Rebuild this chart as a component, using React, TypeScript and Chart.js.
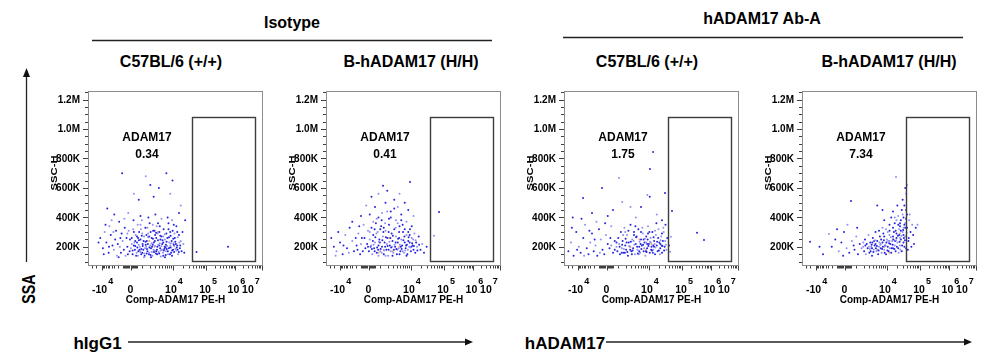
import React, { useEffect, useRef } from "react";
import { Chart, registerables } from "chart.js";

Chart.register(...registerables);

// ---------- data (x in display channel 0-1000 across the biexponential axis, y = SSC-H in K) ----------
const groupTitles = ["Isotype", "hADAM17 Ab-A"];
const panelTitles = ["C57BL/6 (+/+)", "B-hADAM17 (H/H)", "C57BL/6 (+/+)", "B-hADAM17 (H/H)"];
const gateName = "ADAM17";
const gatePercents = ["0.34", "0.41", "1.75", "7.34"];
const axisLabelsBottom = ["hIgG1", "hADAM17"];
const axisLabelLeft = "SSA";
const xTitle = "Comp-ADAM17 PE-H";
const yTitle = "SSC-H";

const yTickValues = [200000, 400000, 600000, 800000, 1000000, 1200000];
const yTickLabels = ["200K", "400K", "600K", "800K", "1.0M", "1.2M"];
const xTickValues = [80, 243, 486, 674, 840, 1000];
const xLabelValues = [66, 243, 474, 669, 831, 914];
const xTickBase = ["-10", "0", "10", "10", "10", "10"];
const xTickExp = ["4", "", "4", "5", "6", "7"];

const gateX = [597, 952];
const gateY = [105000, 1081000];

const isoWT: number[][] = [
  [195,700],[448,700],[330,680],[356,620],[483,650],[262,560],[290,520],[110,460],[530,480],[405,600],[375,540],[230,430],[150,420],[520,430],[470,560],
  [70,260],[85,190],[95,300],[105,230],[118,160],[122,340],[130,280],[140,210],[148,180],[155,250],[160,310],[165,140],[170,220],[178,370],[182,200],[188,160],[192,290],[198,240],[205,180],[210,330],[215,140],[220,260],[225,200],[232,310],[238,170],[100,350],[135,380],[90,150],[175,130],[208,390],[120,200],[60,230],[145,300],[185,260],[228,150],
  [245,190],[250,260],[255,150],[258,320],[262,210],[268,180],[272,280],[275,140],[280,230],[284,350],[288,170],[292,300],[296,200],[300,250],[304,150],[308,380],[312,220],[316,180],[320,270],[324,140],[328,330],[332,200],[336,240],[340,170],[344,290],[348,150],[352,360],[356,210],[360,190],[364,260],[368,140],[372,310],[376,230],[380,175],[384,280],[388,155],[392,340],[396,200],[400,245],[404,165],[408,300],[412,190],[416,135],[420,270],[424,220],[428,160],[432,320],[436,185],[440,250],[444,145],[448,290],[452,205],[456,170],[460,360],[464,230],[468,150],[472,275],[476,195],[480,140],[484,310],[488,225],[492,165],[496,260],[500,185],[505,340],[510,210],[515,150],[520,280],[525,190],[530,240],[535,170],[540,300],[545,220],[550,160],[555,380],
  [250,220],[262,300],[270,240],[278,160],[286,260],[294,180],[302,320],[310,160],[318,240],[326,190],[334,280],[342,220],[350,160],[358,300],[366,200],[374,180],[382,240],[390,170],[398,290],[406,210],[414,250],[422,180],[430,230],[438,200],[446,170],[454,260],[462,190],[470,210],[478,240],[486,180],[494,290],[502,220],[512,180],[522,230],[345,400],[385,420],[420,390],[300,410],[455,400],[480,380],[260,380],[395,150],[365,165],[335,155],[305,185],[415,175],[445,215],[475,160],[505,175],[270,205],[430,140],[370,350],[410,340],[490,350],[285,140],[360,130],[440,130],[320,130],
  [282,195],[291,245],[299,165],[307,275],[313,205],[321,155],[329,235],[337,185],[343,265],[351,195],[357,145],[363,225],[371,255],[377,165],[383,205],[389,295],[394,180],[401,215],[407,155],[413,275],[419,205],[426,245],[433,175],[439,285],[443,195],[449,235],[457,150],[463,265],[469,195],[474,225],[481,175],[487,255],[493,205],[499,235],[507,195],[513,265],[519,165],[527,210],[290,215],[330,215],[370,215],[410,225],[450,185],[490,215],[310,290],[350,270],[390,260],[430,270],[470,300],[510,300],[340,330],[400,360],[460,320],[300,350],[380,310],[280,270],[265,230],[255,175],[240,250],[225,290],
  [620,165],[800,200]
];
const isoKI: number[][] = [
  [480,640],[326,614],[300,560],[260,540],[350,580],[420,560],[390,520],[450,500],[230,480],[340,500],[280,470],[410,470],[470,450],[370,440],[320,430],[250,420],[430,420],[500,410],[300,400],[360,390],[400,380],[200,410],[150,370],[460,370],
  [30,260],[45,200],[60,170],[80,230],[95,150],[110,280],[120,190],[135,330],[150,240],[160,170],[175,210],[185,290],[195,150],[205,260],[215,350],[225,190],[235,220],[240,310],[70,300],[100,210],[130,160],[170,260],[190,340],[55,140],[210,170],
  [245,170],[250,250],[255,200],[260,330],[265,150],[270,280],[275,190],[280,230],[285,360],[290,160],[295,300],[300,210],[305,250],[310,170],[315,340],[320,200],[325,270],[330,150],[335,230],[340,310],[345,180],[350,260],[355,140],[360,350],[365,210],[370,170],[375,290],[380,240],[385,160],[390,320],[395,200],[400,270],[405,150],[410,230],[415,190],[420,340],[425,170],[430,250],[435,210],[440,300],[445,160],[450,230],[455,190],[460,280],[465,150],[470,240],[475,200],[480,320],[485,170],[490,260],[495,210],[500,180],[505,290],[510,160],[515,230],[520,200],[530,270],[540,180],[550,220],[560,160],[575,200],
  [258,210],[268,240],[278,170],[288,290],[298,180],[308,230],[318,160],[328,300],[338,200],[348,220],[358,180],[368,260],[378,200],[388,180],[398,230],[408,180],[418,260],[428,200],[438,170],[448,270],[458,210],[468,180],[478,230],[488,200],[498,250],[318,380],[358,300],[398,330],[438,350],[278,320],[338,360],[418,300],[478,280],[300,140],[380,140],[460,140],[340,140],[420,150],
  [262,185],[272,215],[282,265],[292,195],[302,235],[312,185],[322,245],[332,175],[342,265],[352,205],[362,235],[372,195],[382,275],[392,215],[402,185],[412,255],[422,215],[432,185],[442,245],[452,175],[462,215],[472,265],[482,195],[492,225],[502,205],[512,245],[522,175],[532,215],[290,390],[330,330],[370,400],[410,360],[450,320],[490,340],[350,440],[390,460],[430,380],[270,370],[310,320],[470,300],[250,300],[240,200],[220,260],[200,220],[180,180],
  [646,437],[617,275]
];
const abWT: number[][] = [
  [509,844],[491,729],[314,668],[217,600],[109,532],[476,552],[490,540],[577,566],[333,505],[440,470],[280,450],[380,470],[160,430],[250,410],[530,420],[50,400],[100,390],[410,400],[560,380],
  [617,444],[611,268],[760,295],[800,247],[606,166],[600,210],
  [25,170],[40,230],[55,140],[70,300],[85,200],[95,160],[110,260],[120,350],[130,190],[140,150],[150,230],[160,290],[170,170],[180,210],[190,140],[200,320],[210,250],[220,180],[230,150],[240,280],[250,220],[260,190],[270,340],[280,160],[290,240],[300,200],[45,330],[75,180],[115,140],[145,310],[175,250],[205,160],[235,360],[265,260],[185,370],
  [305,170],[310,260],[315,220],[320,150],[325,300],[330,190],[335,240],[340,160],[345,330],[350,210],[355,180],[360,280],[365,140],[370,230],[375,200],[380,350],[385,170],[390,250],[395,190],[400,300],[405,150],[410,220],[415,270],[420,180],[425,320],[430,200],[435,160],[440,250],[445,210],[450,290],[455,170],[460,230],[465,140],[470,270],[475,190],[480,340],[485,220],[490,160],[495,260],[500,200],[505,300],[510,180],[515,240],[520,150],[525,280],[530,210],[535,170],[540,320],[545,230],[550,190],[555,270],[560,160],[565,240],[570,300],[575,200],[580,350],[585,180],[590,260],
  [318,200],[338,280],[358,230],[378,180],[398,240],[418,200],[438,220],[458,190],[478,250],[498,180],[518,220],[538,260],[558,210],[578,240],[348,160],[388,150],[428,150],[468,170],[508,160],[548,150],[368,310],[408,340],[448,330],[488,300],[528,360],[568,330],[455,250],[475,220],[495,230],[515,200],
  [332,215],[342,185],[352,255],[362,165],[372,205],[382,235],[392,175],[402,215],[412,265],[422,155],[432,235],[442,185],[452,215],[462,255],[472,165],[482,205],[492,235],[502,175],[512,265],[522,195],[532,235],[542,175],[552,245],[562,205],[572,175],[582,215],[440,300],[480,290],[520,310],[400,280],[560,290],[350,300],[300,230],[290,180],[270,210],[330,160],[430,170],[470,230],[510,210],[550,220]
];
const abKI: number[][] = [
  [46,234],[120,150],[154,288],[170,200],[190,250],[210,170],[225,230],[240,300],[255,190],[270,160],[280,512],[285,240],[295,210],[300,180],[310,270],[320,150],[330,220],[340,190],[100,200],[200,320],[260,350],[315,330],[235,140],
  [350,200],[355,170],[360,250],[365,150],[370,220],[375,190],[380,280],[385,160],[390,230],[395,200],[400,140],[405,260],[410,180],[415,210],[420,300],[425,170],[430,240],[435,150],[440,200],[445,270],[450,190],[455,160],[460,230],[465,290],[470,180],[475,210],[480,150],[485,250],[490,200],[495,170],[500,280],[505,220],[510,160],[515,240],[520,190],[525,300],[530,210],[535,170],[540,260],[545,230],[550,190],[555,280],[560,210],[565,250],[570,170],[575,300],[580,230],[585,200],[590,270],[595,190],[362,210],[382,200],[402,230],[422,190],[442,230],[462,200],[482,230],[502,190],[522,250],[542,200],[562,180],[582,260],[392,170],[432,180],[472,160],[512,190],[552,160],[412,240],[452,250],[492,240],[532,240],[572,210],
  [480,320],[500,350],[520,330],[540,380],[560,340],[580,400],[590,360],[600,420],[570,450],[550,410],[530,360],[510,400],[490,300],[545,480],[575,520],[595,560],[585,480],[565,380],[555,320],[535,310],[600,330],[600,620],[590,600],[520,440],[460,330],[470,380],[440,310],[580,330],[565,310],[595,390],[537,675],[460,450],[430,480],
  [388,185],[398,215],[408,165],[418,245],[428,205],[438,175],[448,215],[458,185],[468,245],[478,205],[488,175],[498,225],[508,265],[518,215],[528,185],[538,245],[548,275],[558,235],[568,275],[578,315],[588,245],[598,295],[590,330],[580,280],[560,260],[540,290],[520,270],[500,240],[560,360],[585,350],[575,420],[595,450],[550,350],[530,400],[500,310],[470,270],[450,220],[420,220],[400,190],[350,230],
  [610,260],[620,300],[630,350],[605,180],[640,220],[615,420],[625,200],[650,330],[612,380],[608,240],[635,280],[660,350]
];
const hotIsoWT: number[][] = [[300,170],[350,240],[400,300],[420,180],[330,330],[380,200]];
const hotIsoKI: number[][] = [[330,180],[380,170],[420,200],[300,160],[360,260]];
const hotAbWT: number[][] = [[380,200],[430,250],[470,180],[500,220]];
const hotAbKI: number[][] = [[430,180],[470,200],[520,250],[560,290],[500,160]];

const panelPoints = [isoWT, isoKI, abWT, abKI];
const panelHot = [hotIsoWT, hotIsoKI, hotAbWT, hotAbKI];

// ---------- layout ----------
const FONT = '"Liberation Sans", Arial, Helvetica, sans-serif';
const frameLefts = [88, 326, 564, 802];
const FRAME_W = 175;
const FRAME_H = 175;
const PAD_L = 70, PAD_T = 7, PAD_R = 6, PAD_B = 48;
const CANVAS_TOP = 84;

function decorPlugin(idx: number) {
  return {
    id: "flowDecor" + idx,
    afterDraw(chart: any) {
      const { ctx, chartArea: ca, scales } = chart;
      const xs = scales.x, ys = scales.y;
      ctx.save();
      // gate
      const gx0 = Math.round(xs.getPixelForValue(gateX[0])) + 0.5;
      const gx1 = Math.round(xs.getPixelForValue(gateX[1])) + 0.5;
      const gy0 = Math.round(ys.getPixelForValue(gateY[1])) + 0.5;
      const gy1 = Math.round(ys.getPixelForValue(gateY[0])) + 0.5;
      ctx.strokeStyle = "#3c3c3c";
      ctx.lineWidth = 1.4;
      ctx.strokeRect(gx0, gy0, gx1 - gx0, gy1 - gy0);
      // frame
      ctx.strokeStyle = "#8c8c8c";
      ctx.lineWidth = 1;
      ctx.strokeRect(ca.left + 0.5, ca.top + 0.5, ca.right - ca.left - 1, ca.bottom - ca.top - 1);
      // y ticks
      ctx.strokeStyle = "#404040";
      ctx.beginPath();
      for (let v = 100000; v <= 1250000; v += 50000) {
        const y = Math.round(ys.getPixelForValue(v)) + 0.5;
        const major = v % 200000 === 0;
        ctx.moveTo(ca.left - (major ? 5 : 3), y);
        ctx.lineTo(ca.left, y);
      }
      ctx.stroke();
      // y labels
      ctx.fillStyle = "#000";
      ctx.font = "bold 10px " + FONT;
      ctx.textAlign = "right";
      ctx.textBaseline = "middle";
      yTickValues.forEach((v, i) => {
        ctx.fillText(yTickLabels[i], ca.left - 8, ys.getPixelForValue(v) + 0.5);
      });
      // x ticks
      const minor: number[] = [];
      const z = xTickValues[1], n = xTickValues[0], p = xTickValues[2];
      for (let k = 1; k <= 9; k++) {
        minor.push(z - (z - n) * Math.log10(1 + 0.9 * k));
        minor.push(z + (p - z) * Math.log10(1 + 0.9 * k));
      }
      [6, 12, 18, 24, 30, 36].forEach((d) => { minor.push(z - d); minor.push(z + d); });
      minor.push(45, 20);
      for (let d = 2; d < 5; d++) {
        const a = xTickValues[d], b = xTickValues[d + 1];
        for (let k = 2; k <= 9; k++) minor.push(a + (b - a) * Math.log10(k));
      }
      ctx.beginPath();
      minor.forEach((v) => {
        const x = Math.round(xs.getPixelForValue(v)) + 0.5;
        ctx.moveTo(x, ca.bottom);
        ctx.lineTo(x, ca.bottom + 2.5);
      });
      xTickValues.forEach((v) => {
        const x = Math.min(Math.round(xs.getPixelForValue(v)) + 0.5, ca.right - 0.5);
        ctx.moveTo(x, ca.bottom);
        ctx.lineTo(x, ca.bottom + 4.5);
      });
      ctx.stroke();
      // x labels
      ctx.textBaseline = "alphabetic";
      xLabelValues.forEach((v, i) => {
        const cx = xs.getPixelForValue(v);
        ctx.font = "bold 10.5px " + FONT;
        ctx.textAlign = "center";
        ctx.fillText(xTickBase[i], cx, ca.bottom + 26.5);
        if (xTickExp[i]) {
          const w = ctx.measureText(xTickBase[i]).width;
          ctx.font = "bold 9px " + FONT;
          ctx.textAlign = "left";
          ctx.fillText(xTickExp[i], cx + w / 2 + 1, ca.bottom + 17.5);
        }
      });
      // x title
      ctx.font = "bold 10px " + FONT;
      ctx.textAlign = "center";
      ctx.fillText(xTitle, (ca.left + ca.right) / 2, ca.bottom + 37);
      // y title
      ctx.save();
      ctx.translate(ca.left - 33, ca.top + 82);
      ctx.rotate(-Math.PI / 2);
      ctx.scale(1.25, 1);
      ctx.font = "bold 9px " + FONT;
      ctx.textAlign = "center";
      ctx.textBaseline = "middle";
      ctx.fillText(yTitle, 0, 0);
      ctx.restore();
      // gate annotation
      ctx.font = "bold 12px " + FONT;
      ctx.textAlign = "center";
      ctx.textBaseline = "middle";
      ctx.fillText(gateName, ca.left + 59, ca.top + 46.5);
      ctx.fillText(gatePercents[idx], ca.left + 59, ca.top + 64);
      ctx.restore();
    },
  };
}

function FlowPanel({ idx }: { idx: number }) {
  const ref = useRef<HTMLCanvasElement>(null);
  useEffect(() => {
    const pts = panelPoints[idx];
    const hot = panelHot[idx];
    const chart = new Chart(ref.current as HTMLCanvasElement, {
      type: "scatter",
      data: {
        datasets: [
          {
            data: pts.map((q) => ({ x: q[0], y: q[1] * 1000 })),
            pointRadius: 1,
            pointHoverRadius: 1,
            pointBorderWidth: 0,
            pointBackgroundColor: (c: any) => (c.dataIndex % 3 === 2 ? "#8f8ff2" : "#2424e0"),
          } as any,
          {
            data: hot.map((q) => ({ x: q[0], y: q[1] * 1000 })),
            pointRadius: 1,
            pointHoverRadius: 1,
            pointBorderWidth: 0,
            pointBackgroundColor: "#f0a070",
          } as any,
        ],
      },
      options: {
        responsive: false,
        animation: false,
        events: [],
        layout: { padding: { left: PAD_L, top: PAD_T, right: PAD_R, bottom: PAD_B } },
        scales: {
          x: { type: "linear", min: 0, max: 1000, display: false },
          y: { type: "linear", min: 70000, max: 1258000, display: false },
        },
        plugins: { legend: { display: false }, tooltip: { enabled: false } },
      },
      plugins: [decorPlugin(idx)],
    });
    return () => chart.destroy();
  }, [idx]);
  const w = PAD_L + FRAME_W + PAD_R;
  const h = PAD_T + FRAME_H + PAD_B;
  return (
    <canvas
      ref={ref}
      width={w}
      height={h}
      style={{ position: "absolute", left: frameLefts[idx] - PAD_L, top: CANVAS_TOP, width: w, height: h }}
    />
  );
}

function Label({ text, x, y, size, extra }: { text: string; x: number; y: number; size: number; extra?: string }) {
  return (
    <div
      style={{
        position: "absolute",
        left: x,
        top: y,
        transform: "translate(-50%,-50%)" + (extra || ""),
        fontFamily: FONT,
        fontWeight: "bold",
        fontSize: size,
        lineHeight: 1,
        whiteSpace: "nowrap",
        color: "#000",
      }}
    >
      {text}
    </div>
  );
}

export default function App() {
  const titleX = [171, 411, 647, 889];
  return (
    <div
      style={{
        position: "absolute",
        left: 0,
        top: 0,
        width: 989,
        height: 363,
        background: "#fff",
        overflow: "hidden",
      }}
    >
      <svg width={989} height={363} style={{ position: "absolute", left: 0, top: 0 }}>
        <g stroke="#222" strokeWidth={1.3} fill="none">
          <line x1={92} y1={40.5} x2={492} y2={40.5} />
          <line x1={563} y1={37.5} x2={963} y2={37.5} />
          <line x1={26.5} y1={262} x2={26.5} y2={75} />
          <line x1={128} y1={342} x2={466} y2={342} />
          <line x1={606} y1={342} x2={965} y2={342} />
        </g>
        <g fill="#111">
          <polygon points="26.5,68 23,77 30,77" />
          <polygon points="473,342 465,338.5 465,345.5" />
          <polygon points="972,342 964,338.5 964,345.5" />
        </g>
      </svg>
      <Label text={groupTitles[0]} x={292} y={23} size={16} />
      <Label text={groupTitles[1]} x={762} y={19} size={16} />
      {panelTitles.map((t, i) => (
        <Label key={i} text={t} x={titleX[i]} y={62} size={16} />
      ))}
      <Label text={axisLabelsBottom[0]} x={97.5} y={343} size={17} />
      <Label text={axisLabelsBottom[1]} x={565} y={343} size={17} />
      <Label text={axisLabelLeft} x={28} y={289} size={19} extra=" rotate(-90deg) scaleX(0.75)" />
      {[0, 1, 2, 3].map((i) => (
        <FlowPanel key={i} idx={i} />
      ))}
    </div>
  );
}
